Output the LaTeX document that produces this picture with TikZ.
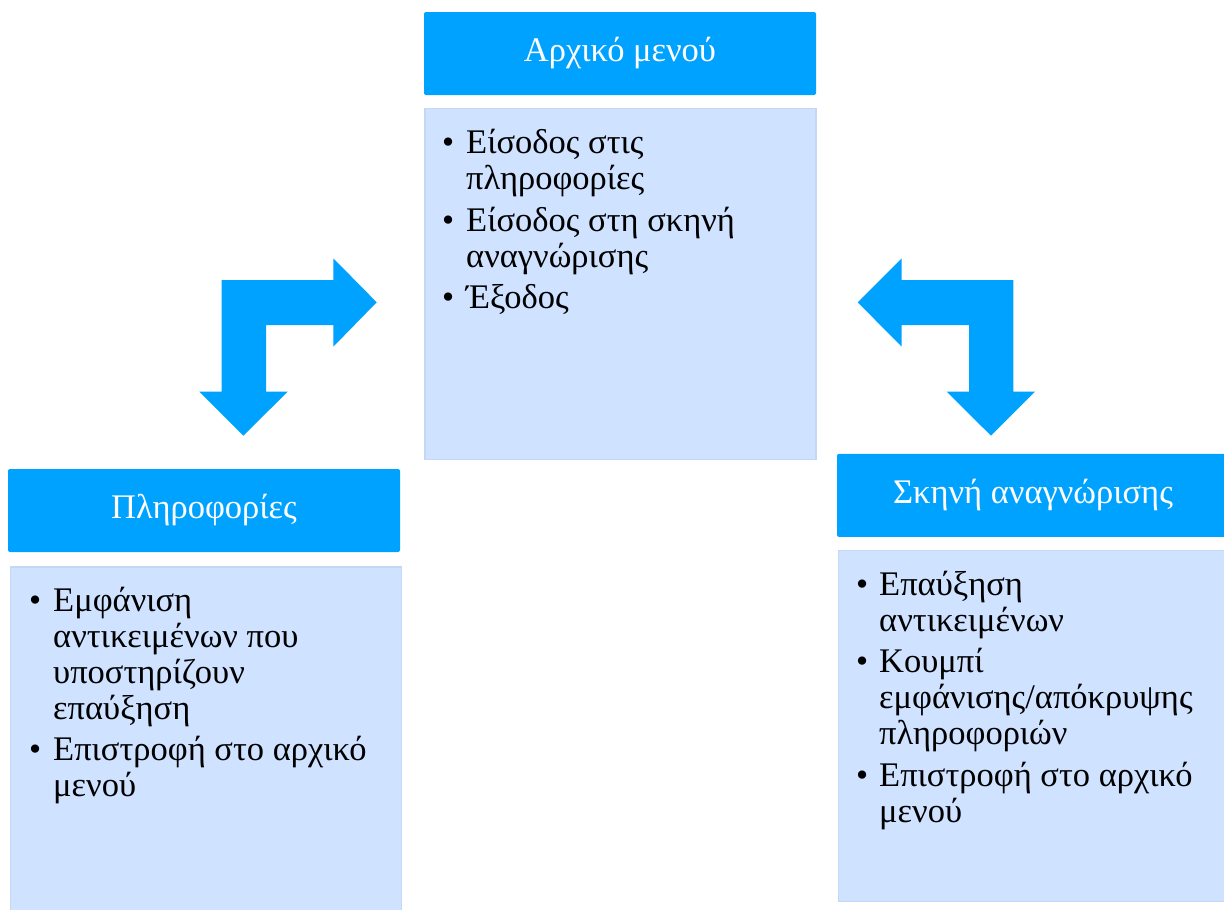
\documentclass[tikz,border=0pt]{standalone}
\usepackage{fontspec}
\setmainfont{Liberation Serif}
\definecolor{hdrblue}{RGB}{0,162,255}
\definecolor{boxfill}{RGB}{207,226,255}
\definecolor{boxline}{RGB}{196,216,246}
\newcommand{\itemlines}[1]{\begin{tabular}[t]{@{}l@{}}#1\end{tabular}}
\tikzset{
  hdr/.style={fill=hdrblue, draw=none, rounded corners=2pt, minimum width=392pt, minimum height=83pt,
    text=white, font={\fontsize{34.5}{36}\selectfont}, inner sep=0pt},
  cbox/.style={fill=boxfill, draw=boxline, line width=1.5pt, minimum width=391pt, minimum height=351pt, inner sep=0pt},
  btxt/.style={anchor=base west, inner sep=0pt, font={\fontsize{34.5}{36}\selectfont}},
  bdot/.style={anchor=base west, inner sep=0pt, font={\fontsize{34.5}{36}\selectfont}},
  bigarrow/.style={fill=hdrblue, draw=none}
}
\begin{document}
\begin{tikzpicture}[x=1pt,y=-1pt]
\useasboundingbox (0,0) rectangle (1224,910);
\clip (0,0) rectangle (1224,910);

% headers
\node[hdr] (hTop) at (620,53.5) {Αρχικό μενού};
\node[hdr] (hLeft) at (204,510.5) {Πληροφορίες};
\node[hdr] (hRight) at (1033,495.4) {Σκηνή αναγνώρισης};

% content boxes
\node[cbox] (cTop) at (620.3,284.2) {};
\node[cbox] (cLeft) at (206,742.5) {};
\node[cbox] (cRight) at (1034,726) {};

% top content
\node[bdot] (tb1) at (442,153.3) {•};
\node[btxt] (tt1) at (466,153.3) {\itemlines{Είσοδος στις\\πληροφορίες}};
\node[bdot] (tb2) at (442,231.7) {•};
\node[btxt] (tt2) at (466,231.7) {\itemlines{Είσοδος στη σκηνή\\αναγνώρισης}};
\node[bdot] (tb3) at (442,308.3) {•};
\node[btxt] (tt3) at (466,308.3) {\itemlines{Έξοδος}};

% left content
\node[bdot] (lb1) at (29,611.7) {•};
\node[btxt] (lt1) at (53,611.7) {\itemlines{Εμφάνιση\\αντικειμένων που\\υποστηρίζουν\\επαύξηση}};
\node[bdot] (lb2) at (29,760.5) {•};
\node[btxt] (lt2) at (53,760.5) {\itemlines{Επιστροφή στο αρχικό\\μενού}};

% right content
\node[bdot] (rb1) at (856,595) {•};
\node[btxt] (rt1) at (879,595) {\itemlines{Επαύξηση\\αντικειμένων}};
\node[bdot] (rb2) at (856,672) {•};
\node[btxt] (rt2) at (879,672) {\itemlines{Κουμπί\\εμφάνισης/απόκρυψης\\πληροφοριών}};
\node[bdot] (rb3) at (856,786.5) {•};
\node[btxt] (rt3) at (879,786.5) {\itemlines{Επιστροφή στο αρχικό\\μενού}};

% bent arrows
\fill[bigarrow] (221.7,280) -- (333.3,280) -- (333.3,258.3) -- (376.7,302.3) -- (333.3,346.7)
  -- (333.3,325) -- (266,325) -- (266,391.7) -- (287.7,391.7) -- (243.3,435.7)
  -- (199.3,391.7) -- (221.7,391.7) -- cycle;
\fill[bigarrow] (1013.3,280) -- (901.7,280) -- (901.7,258.3) -- (857.7,302.3) -- (901.7,346.7)
  -- (901.7,325) -- (969,325) -- (969,391.7) -- (946.7,391.7) -- (991,435.7)
  -- (1035,391.7) -- (1013.3,391.7) -- cycle;
\end{tikzpicture}
\end{document}
